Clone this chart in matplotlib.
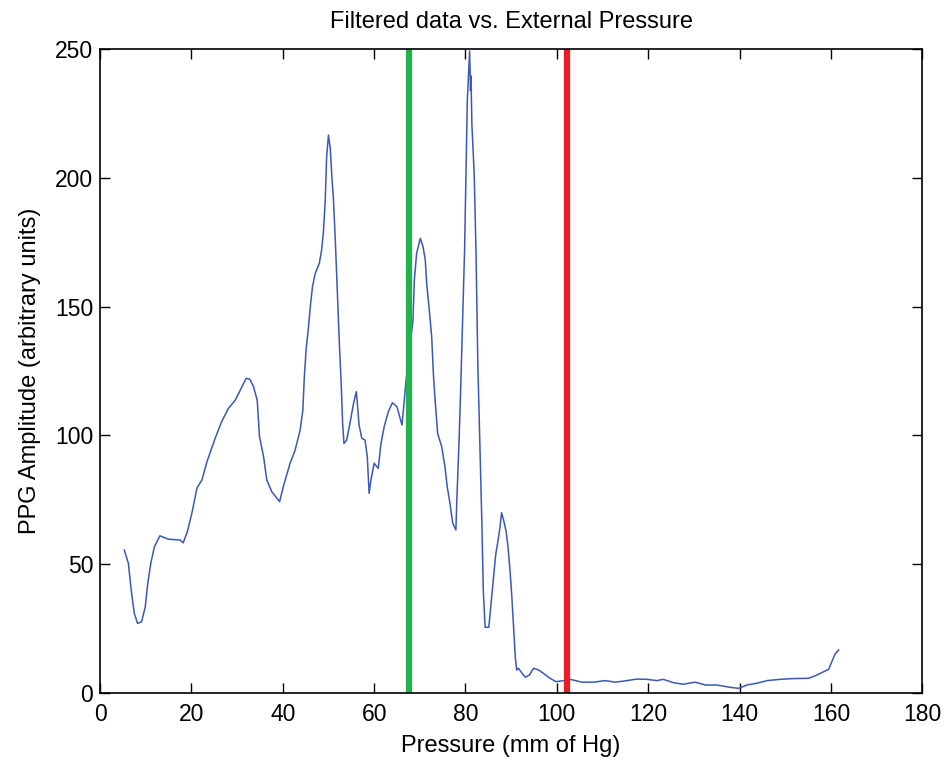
import numpy as np
import matplotlib.pyplot as plt

plt.rcParams['font.family'] = ['Liberation Sans', 'DejaVu Sans']

# Readings from the filtered PPG trace
pressure = [5.3, 6.2, 6.9, 7.5, 8.2, 9.1, 9.9, 10.4, 11.1, 11.9, 13.1, 15.0, 17.5, 18.2,
            19.1, 20.1, 21.2, 22.3, 23.4, 25.2, 26.6, 28.1, 29.6, 30.7, 32.0, 32.8, 33.6,
            34.4, 34.9, 35.8, 36.5, 37.6, 39.3, 40.1, 41.6, 42.7, 43.8, 44.4, 44.7, 45.1,
            45.6, 46.1, 46.5, 47.1, 48.0, 48.5, 48.9, 49.3, 49.6, 50.0, 50.4, 50.7, 51.1,
            51.5, 52.0, 52.4, 52.8, 53.1, 53.4, 54.0, 54.7, 55.5, 56.1, 56.3, 56.7, 57.3,
            58.0, 58.5, 58.9, 59.3, 60.0, 60.9, 61.5, 62.2, 63.1, 64.0, 65.0, 65.5, 66.1,
            66.6, 67.0, 68.5, 68.8, 69.3, 70.1, 70.7, 71.2, 71.5, 72.0, 72.6, 73.0, 73.4,
            73.9, 74.8, 75.5, 76.0, 76.6, 77.2, 77.9, 78.1, 78.6, 79.0, 79.4, 79.8, 80.1,
            80.4, 80.9, 81.1, 81.2, 81.4, 81.9, 82.3, 82.7, 83.2, 83.6, 83.9, 84.3, 85.1,
            85.5, 86.1, 86.6, 87.2, 87.6, 87.9, 88.4, 88.9, 89.3, 89.7, 90.1, 90.5, 90.9, 91.2,
            91.6, 92.1, 93.1, 94.0, 94.9, 96.0, 97.1, 98.5, 99.8, 101.1, 102.9, 105.5,
            108.0, 110.6, 112.8, 115.3, 117.5, 119.7, 121.9, 123.3, 125.5, 127.7, 130.3,
            132.5, 135.0, 137.9, 139.8, 141.6, 143.8, 146.0, 148.9, 151.8, 155.1, 156.6,
            158.0, 159.5, 160.2, 160.9, 161.7]
amplitude = [55.5, 50.3, 38.7, 30.9, 27.0, 27.7, 33.5, 42.0, 50.3, 56.8, 61.0, 59.7, 59.4, 58.3,
             62.6, 69.8, 79.5, 82.7, 89.8, 98.9, 105.3, 110.5, 113.7, 117.6, 122.2, 121.8, 118.9,
             113.7, 99.5, 91.7, 82.7, 78.1, 74.3, 80.0, 89.2, 94.3, 102.1, 109.9, 122.2, 133.2,
             141.6, 151.3, 157.7, 162.9, 166.8, 172.0, 179.1, 191.4, 208.2, 216.6, 211.4, 201.7, 191.4,
             175.9, 153.8, 135.1, 119.6, 104.7, 96.9, 98.2, 104.7, 112.5, 117.0, 113.1, 104.0, 98.9,
             98.2, 91.7, 77.5, 82.7, 89.2, 87.2, 96.9, 103.4, 109.2, 112.7, 111.1, 107.9, 104.0,
             113.7, 121.5, 144.8, 160.3, 170.7, 176.5, 173.3, 168.1, 159.0, 150.0, 138.3, 122.8, 112.5,
             100.8, 95.6, 87.8, 80.1, 73.6, 65.9, 63.3, 74.9, 98.2, 121.5, 146.7, 172.0, 200.4,
             230.0, 249.2, 233.9, 239.6, 220.7, 201.7, 171.3, 127.6, 92.2, 65.0, 39.5, 25.5, 25.5,
             32.9, 43.6, 53.5, 60.1, 65.0, 70.0, 66.7, 62.6, 56.8, 48.6, 38.7, 26.4, 14.0, 8.9,
             9.6, 8.3, 6.1, 7.0, 9.6, 8.9, 7.6, 5.7, 4.4, 4.7, 5.3, 4.2,
             4.2, 4.8, 4.2, 4.8, 5.4, 5.3, 4.8, 5.3, 4.0, 3.4, 4.2,
             3.1, 3.1, 2.2, 1.8, 3.1, 3.8, 4.8, 5.3, 5.6, 5.7, 6.7,
             7.9, 9.2, 12.2, 15.1, 16.7]

# marker lines (pressure values)
green_p = 67.7
red_p = 102.3

fig = plt.figure(figsize=(9.44, 7.67), dpi=100)
ax = fig.add_axes([0.106, 0.0965, 0.871, 0.8395])

ax.plot(pressure, amplitude, color='#3a58b8', linewidth=1.1)
ax.axvline(green_p, color='#22b24c', linewidth=4.5)
ax.axvline(red_p, color='#ed1c24', linewidth=4.5)

ax.set_xlim(0, 180)
ax.set_ylim(0, 250)
ax.set_xticks(np.arange(0, 181, 20))
ax.set_yticks(np.arange(0, 251, 50))
ax.tick_params(direction='in', top=True, right=True, labelsize=16.5, length=7.5, width=1)
ax.tick_params(axis='x', pad=7)
ax.tick_params(axis='y', pad=5)
for s in ax.spines.values():
    s.set_linewidth(1.2)

ax.set_title('Filtered data vs. External Pressure', fontsize=17, pad=15)
ax.set_xlabel('Pressure (mm of Hg)', fontsize=17, labelpad=7)
ax.set_ylabel('PPG Amplitude (arbitrary units)', fontsize=17, labelpad=10)

fig.savefig('out.png', dpi=100)
